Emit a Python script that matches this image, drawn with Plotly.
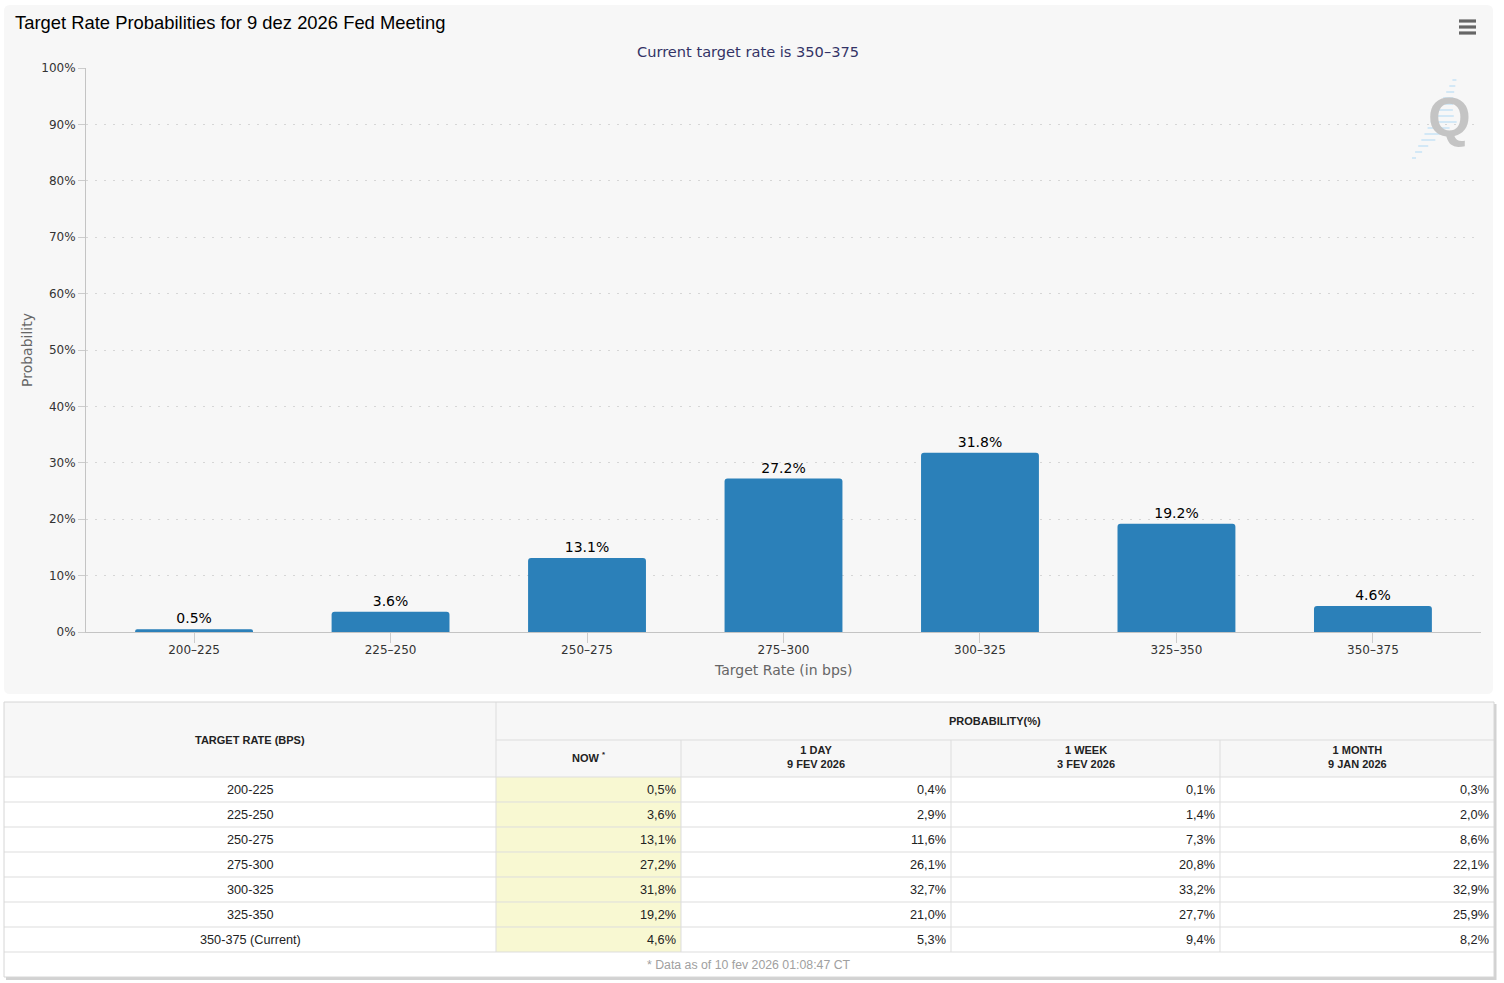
import plotly.graph_objects as go

# ---------------- data ----------------
categories = ["200-225", "225-250", "250-275", "275-300", "300-325", "325-350", "350-375"]
current_rate = "350-375"
prob_now = [0.5, 3.6, 13.1, 27.2, 31.8, 19.2, 4.6]
prob_1day = [0.4, 2.9, 11.6, 26.1, 32.7, 21.0, 5.3]
prob_1week = [0.1, 1.4, 7.3, 20.8, 33.2, 27.7, 9.4]
prob_1month = [0.3, 2.0, 8.6, 22.1, 32.9, 25.9, 8.2]
y_ticks = [0, 10, 20, 30, 40, 50, 60, 70, 80, 90, 100]
col_headers = ["NOW <sup>*</sup>", "1 DAY<br>9 FEV 2026", "1 WEEK<br>3 FEV 2026", "1 MONTH<br>9 JAN 2026"]
title_text = "Target Rate Probabilities for 9 dez 2026 Fed Meeting"
subtitle_text = "Current target rate is 350–375"
footer_text = "* Data as of 10 fev 2026 01:08:47 CT"

# ---------------- geometry helpers ----------------
W, H = 1504, 983


def X(px):
    return px / W


def Y(py):
    return 1 - py / H


def rrect(x0, y0, x1, y1, r):
    pts = (
        f"M {X(x0 + r)},{Y(y0)} L {X(x1 - r)},{Y(y0)} Q {X(x1)},{Y(y0)} {X(x1)},{Y(y0 + r)} "
        f"L {X(x1)},{Y(y1 - r)} Q {X(x1)},{Y(y1)} {X(x1 - r)},{Y(y1)} "
        f"L {X(x0 + r)},{Y(y1)} Q {X(x0)},{Y(y1)} {X(x0)},{Y(y1 - r)} "
        f"L {X(x0)},{Y(y0 + r)} Q {X(x0)},{Y(y0)} {X(x0 + r)},{Y(y0)} Z"
    )
    return pts


chart_font = "DejaVu Sans"
table_font = "Liberation Sans, Arial"

fig = go.Figure()

chart_labels = [c.replace("-", "–") for c in categories]

fig.add_trace(go.Bar(
    x=chart_labels,
    y=prob_now,
    width=0.6,
    marker=dict(color="#2b80b9", line=dict(width=0), cornerradius=3),
    texttemplate="%{y:.1f}%",
    textposition="outside",
    textfont=dict(family=chart_font, size=14, color="#000000"),
    cliponaxis=False,
    hoverinfo="x+y",
))

shapes = []
annotations = []

shapes.append(dict(type="path", path=rrect(4, 5, 1493, 694, 6), xref="paper", yref="paper",
                   fillcolor="#f7f7f7", line=dict(width=0), layer="below"))

for yy in (21, 27, 33):
    shapes.append(dict(type="line", xref="paper", yref="paper", x0=X(1459), x1=X(1476), y0=Y(yy), y1=Y(yy),
                       line=dict(color="#666666", width=3.2)))

streaks = [(80, 4), (86, 6), (92, 8), (98, 10), (104, 13), (110, 16), (116, 20), (122, 26),
           (128, 22), (134, 18), (140, 14), (146, 10), (152, 7), (158, 4)]
for yy, ln in streaks:
    xd = 1455 - (yy - 75) * (43 / 83)
    shapes.append(dict(type="line", xref="paper", yref="paper", x0=X(xd), x1=X(xd + ln), y0=Y(yy), y1=Y(yy),
                       line=dict(color="#d3e8f6", width=2)))
annotations.append(dict(text="<b>Q</b>", x=X(1449), y=Y(117), xref="paper", yref="paper", showarrow=False,
                        xanchor="center", yanchor="middle",
                        font=dict(family="Liberation Sans, Arial", size=55, color="#c4c4c4")))

annotations.append(dict(text=title_text, x=X(13), y=Y(23), xref="paper", yref="paper", showarrow=False,
                        xanchor="left", yanchor="middle",
                        font=dict(family="Liberation Sans, Arial", size=18.4, color="#000000")))
annotations.append(dict(text=subtitle_text, x=X(748), y=Y(51), xref="paper", yref="paper", showarrow=False,
                        xanchor="center", yanchor="middle",
                        font=dict(family=chart_font, size=14.6, color="#333366")))
annotations.append(dict(text="Probability", x=X(27), y=Y(350), xref="paper", yref="paper", showarrow=False,
                        textangle=-90, xanchor="center", yanchor="middle",
                        font=dict(family=chart_font, size=14, color="#666666")))
annotations.append(dict(text="Target Rate (in bps)", x=X(783), y=Y(670), xref="paper", yref="paper",
                        showarrow=False, xanchor="center", yanchor="middle",
                        font=dict(family=chart_font, size=14, color="#666666")))

# ---------------- table ----------------
col_edges = [4, 496, 681, 951, 1220, 1494]
t_top, h_mid, h_bot = 702, 740, 777
row_h = 25
n_rows = len(categories)
body_bot = h_bot + row_h * n_rows
t_bot = body_bot + 25

shapes.append(dict(type="rect", xref="paper", yref="paper", x0=X(col_edges[0] + 2), x1=X(col_edges[-1] + 2.5),
                   y0=Y(t_top + 2), y1=Y(t_bot + 3), fillcolor="#d2d2d2", line=dict(width=0)))
shapes.append(dict(type="rect", xref="paper", yref="paper", x0=X(col_edges[0]), x1=X(col_edges[-1]),
                   y0=Y(t_top), y1=Y(t_bot), fillcolor="#ffffff", line=dict(width=0)))
shapes.append(dict(type="rect", xref="paper", yref="paper", x0=X(col_edges[0]), x1=X(col_edges[-1]),
                   y0=Y(t_top), y1=Y(h_bot), fillcolor="#f7f7f7", line=dict(width=0)))
shapes.append(dict(type="rect", xref="paper", yref="paper", x0=X(col_edges[1]), x1=X(col_edges[2]),
                   y0=Y(h_bot), y1=Y(body_bot), fillcolor="#f8f8d2", line=dict(width=0)))

grid = dict(color="#dddddd", width=1)
shapes.append(dict(type="line", xref="paper", yref="paper", x0=X(col_edges[1]), x1=X(col_edges[-1]),
                   y0=Y(h_mid), y1=Y(h_mid), line=grid))
for i in range(n_rows + 1):
    yy = h_bot + row_h * i
    shapes.append(dict(type="line", xref="paper", yref="paper", x0=X(col_edges[0]), x1=X(col_edges[-1]),
                       y0=Y(yy), y1=Y(yy), line=grid))
shapes.append(dict(type="line", xref="paper", yref="paper", x0=X(col_edges[1]), x1=X(col_edges[1]),
                   y0=Y(t_top), y1=Y(body_bot), line=grid))
for cx in col_edges[2:-1]:
    shapes.append(dict(type="line", xref="paper", yref="paper", x0=X(cx), x1=X(cx),
                       y0=Y(h_mid), y1=Y(body_bot), line=grid))
shapes.append(dict(type="rect", xref="paper", yref="paper", x0=X(col_edges[0]), x1=X(col_edges[-1]),
                   y0=Y(t_top), y1=Y(t_bot), line=dict(color="#d6d6d6", width=1)))

hdr_font = dict(family=table_font, size=11, color="#222222")
annotations.append(dict(text="<b>TARGET RATE (BPS)</b>", x=X((col_edges[0] + col_edges[1]) / 2),
                        y=Y((t_top + h_bot) / 2), xref="paper", yref="paper", showarrow=False,
                        xanchor="center", yanchor="middle", font=hdr_font))
annotations.append(dict(text="<b>PROBABILITY(%)</b>", x=X((col_edges[1] + col_edges[-1]) / 2),
                        y=Y((t_top + h_mid) / 2), xref="paper", yref="paper", showarrow=False,
                        xanchor="center", yanchor="middle", font=hdr_font))
for j, hdr in enumerate(col_headers):
    annotations.append(dict(text=f"<b>{hdr}</b>", x=X((col_edges[j + 1] + col_edges[j + 2]) / 2),
                            y=Y((h_mid + h_bot) / 2 - 1.5), xref="paper", yref="paper", showarrow=False,
                            xanchor="center", yanchor="middle", font=hdr_font))

cell_font = dict(family=table_font, size=12.7, color="#222222")
series = [prob_now, prob_1day, prob_1week, prob_1month]
for i, cat in enumerate(categories):
    yc = Y(h_bot + row_h * i + row_h / 2)
    label = cat + (" (Current)" if cat == current_rate else "")
    annotations.append(dict(text=label, x=X((col_edges[0] + col_edges[1]) / 2), y=yc, xref="paper",
                            yref="paper", showarrow=False, xanchor="center", yanchor="middle", font=cell_font))
    for j, s in enumerate(series):
        txt = f"{s[i]:.1f}%".replace(".", ",")
        annotations.append(dict(text=txt, x=X(col_edges[j + 2] - 3.5), y=yc, xref="paper", yref="paper",
                                showarrow=False, xanchor="right", yanchor="middle", font=cell_font))
annotations.append(dict(text=footer_text, x=X((col_edges[0] + col_edges[-1]) / 2), y=Y((body_bot + t_bot) / 2),
                        xref="paper", yref="paper", showarrow=False, xanchor="center", yanchor="middle",
                        font=dict(family=table_font, size=12.3, color="#a0a0a0")))

fig.update_layout(
    width=W, height=H,
    margin=dict(l=0, r=0, t=0, b=0, autoexpand=False),
    paper_bgcolor="#ffffff",
    plot_bgcolor="rgba(0,0,0,0)",
    showlegend=False,
    shapes=shapes,
    annotations=annotations,
    xaxis=dict(
        domain=[X(86), X(1481)],
        range=[-0.55, len(categories) - 0.45],
        type="category",
        automargin=False,
        showgrid=False,
        showline=True, linecolor="#c4c4c4", linewidth=1,
        ticks="outside", ticklen=10, tickcolor="#cccccc", tickwidth=1,
        ticklabelstandoff=-3,
        tickfont=dict(family=chart_font, size=12, color="#333333"),
        fixedrange=True,
    ),
    yaxis=dict(
        domain=[Y(632), Y(68)],
        range=[0, 100],
        automargin=False,
        tickvals=y_ticks,
        ticktext=[f"{v}%" for v in y_ticks],
        showgrid=True, gridcolor="#d6d6d6", griddash="2px,7px", gridwidth=1,
        zeroline=False,
        showline=True, linecolor="#c4c4c4", linewidth=1,
        ticks="outside", ticklen=7, tickcolor="#cccccc", tickwidth=1,
        tickfont=dict(family=chart_font, size=12, color="#333333"),
        fixedrange=True,
    ),
)

fig.write_html("out.html", config={"displayModeBar": False},
               post_script="document.body.style.margin='0';document.body.style.overflow='hidden';")
